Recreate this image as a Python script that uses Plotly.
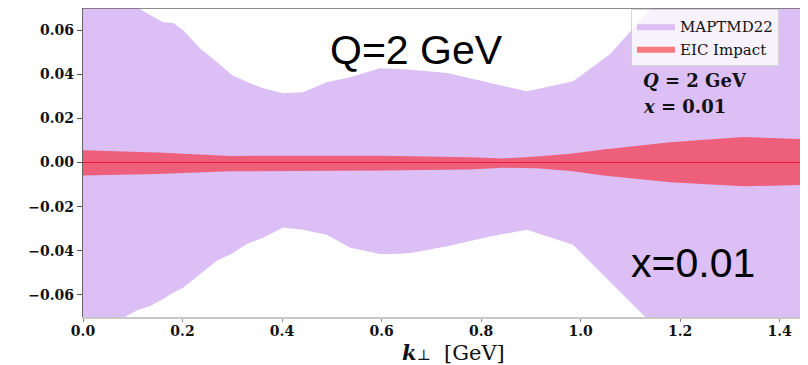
import plotly.graph_objects as go

# MAPTMD22 band (purple)
map_x = [0.0, 0.080, 0.109, 0.135, 0.161, 0.181, 0.201, 0.235, 0.269, 0.300, 0.330, 0.362, 0.402, 0.442, 0.490,
         0.537, 0.597, 0.637, 0.661, 0.732, 0.798, 0.818, 0.892, 0.985, 1.059, 1.079, 1.130, 1.140, 1.200, 1.300, 1.460]
map_up = [0.085, 0.074, 0.0700, 0.0668, 0.0636, 0.0632, 0.0600, 0.0518, 0.0455, 0.0395, 0.0365, 0.0336, 0.0314, 0.0318, 0.0364,
          0.0386, 0.0427, 0.0423, 0.0420, 0.0405, 0.0370, 0.0360, 0.0323, 0.0368, 0.0491, 0.0540, 0.0670, 0.0691, 0.085, 0.100, 0.120]
map_lo = [-0.085, -0.0705, -0.0669, -0.0650, -0.0618, -0.0590, -0.0568, -0.0505, -0.0445, -0.0412, -0.0368, -0.0341, -0.0295, -0.0305, -0.0327,
          -0.0386, -0.0414, -0.0413, -0.0409, -0.0380, -0.0345, -0.0335, -0.0305, -0.0373, -0.0540, -0.0582, -0.0700, -0.0720, -0.080, -0.092, -0.110]

# EIC impact band (red)
eic_x = [0.0, 0.15, 0.295, 0.46, 0.60, 0.778, 0.844, 0.912, 0.98, 1.046, 1.18, 1.327, 1.457]
eic_up = [0.0055, 0.0045, 0.0030, 0.0031, 0.0031, 0.0024, 0.0018, 0.0027, 0.0040, 0.0059, 0.0092, 0.0115, 0.0105]
eic_lo = [-0.0059, -0.0052, -0.0040, -0.0038, -0.0036, -0.0032, -0.0024, -0.0026, -0.0038, -0.0059, -0.0089, -0.0108, -0.0101]

x_ticks = [0.0, 0.2, 0.4, 0.6, 0.8, 1.0, 1.2, 1.4]
y_ticks = [-0.06, -0.04, -0.02, 0.0, 0.02, 0.04, 0.06]
y_ticktext = [("−" if v < 0 else "") + f"{abs(v):.2f}" for v in y_ticks]

fig = go.Figure()
fig.add_trace(go.Scatter(
    x=map_x + map_x[::-1], y=map_up + map_lo[::-1], fill="toself",
    fillcolor="rgb(219,191,245)", line=dict(width=0), mode="lines",
    name="MAPTMD22", hoverinfo="skip"))
fig.add_trace(go.Scatter(
    x=eic_x + eic_x[::-1], y=eic_up + eic_lo[::-1], fill="toself",
    fillcolor="rgba(255,0,0,0.5)", line=dict(width=0), mode="lines",
    name="EIC Impact", hoverinfo="skip"))
fig.add_trace(go.Scatter(
    x=[eic_x[0], eic_x[-1]], y=[0, 0], mode="lines",
    line=dict(color="rgba(240,20,40,0.9)", width=1), showlegend=False, hoverinfo="skip"))

serif = "DejaVu Serif"
# page body has an 8px margin: the figure is placed at (8, 8) in the window
W, H = 800, 357
L, T, B = 75, 0, 48
pw, ph = W - L, H - T - B


def px(xs):
    return (xs - 8 - L) / pw


def py(ys):
    return (H - B - (ys - 8)) / ph


fig.update_layout(
    width=W, height=H,
    margin=dict(l=L, r=0, t=T, b=B, pad=0),
    plot_bgcolor="white", paper_bgcolor="white",
    showlegend=True,
    legend=dict(x=px(631), y=py(9), xanchor="left", yanchor="top",
                bgcolor="rgba(255,255,255,0.8)", bordercolor="rgba(210,210,210,0.9)", borderwidth=1,
                font=dict(family=serif, size=15, color="#111"), tracegroupgap=0, itemwidth=38),
    xaxis=dict(range=[0, 1.457], tickvals=x_ticks, tickformat=".1f", showgrid=False, zeroline=False,
               showline=True, linecolor="#c8c8c8", linewidth=1.5, ticks="outside", ticklen=3,
               tickcolor="#888", tickfont=dict(family=serif, size=14, color="#111", weight="bold"),
               ticklabelstandoff=-3),
    yaxis=dict(range=[-0.07, 0.07], tickvals=y_ticks, ticktext=y_ticktext, showgrid=False, zeroline=False,
               showline=True, linecolor="#666", linewidth=1.2, ticks="outside", ticklen=5,
               tickcolor="#555", tickfont=dict(family=serif, size=14, color="#111", weight="bold")),
    shapes=[dict(type="line", xref="paper", yref="paper", x0=0, x1=1, y0=1, y1=1,
                 line=dict(color="#666", width=1.5))],
    annotations=[
        dict(text="<b><i>k</i></b><span style='font-size:15px'>⊥</span>  [GeV]", xref="paper", yref="paper",
             x=px(454), y=py(367), xanchor="center", yanchor="bottom", showarrow=False,
             font=dict(family=serif, size=21, color="#111")),
        dict(text="Q=2 GeV", xref="paper", yref="paper", x=px(416), y=py(50),
             xanchor="center", yanchor="middle", showarrow=False,
             font=dict(family="Liberation Sans", size=41, color="black")),
        dict(text="x=0.01", xref="paper", yref="paper", x=px(693), y=py(263),
             xanchor="center", yanchor="middle", showarrow=False,
             font=dict(family="Liberation Sans", size=41, color="black")),
        dict(text="<b><i>Q</i> = 2 GeV</b>", xref="paper", yref="paper", x=px(641), y=py(81),
             xanchor="left", yanchor="middle", showarrow=False, font=dict(family=serif, size=18, color="#111")),
        dict(text="<b><i>x</i> = 0.01</b>", xref="paper", yref="paper", x=px(641), y=py(107),
             xanchor="left", yanchor="middle", showarrow=False, font=dict(family=serif, size=18, color="#111")),
    ],
)

fig.write_html("out.html")
